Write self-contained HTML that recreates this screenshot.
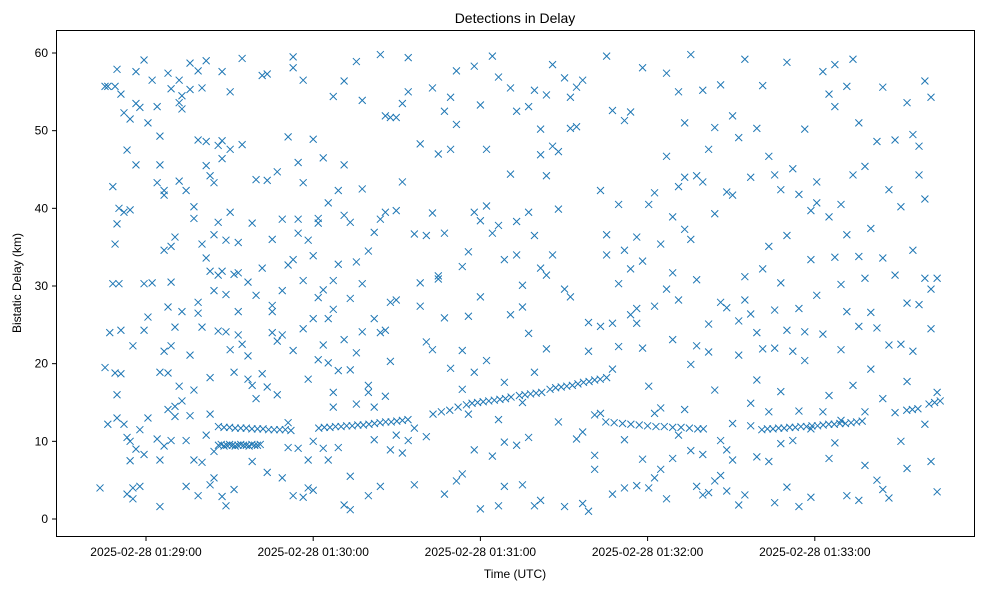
<!DOCTYPE html>
<html><head><meta charset="utf-8"><style>
body{margin:0;background:#fff;}
svg{display:block;font-family:"Liberation Sans","DejaVu Sans",sans-serif;}
</style></head><body>
<svg id="chart" width="989" height="590">
<rect x="0" y="0" width="989" height="590" fill="#fff"/>
<text x="515" y="23" font-size="14" text-anchor="middle">Detections in Delay</text>
<text x="515" y="578" font-size="12" text-anchor="middle">Time (UTC)</text>
<text transform="translate(21,283) rotate(-90)" font-size="12" text-anchor="middle">Bistatic Delay (km)</text>
<g id="marks"></g>
<g id="axes"></g>
<rect x="56.5" y="30.5" width="918" height="506" fill="none" stroke="#000" stroke-width="1"/>
</svg>
<script>
// time in seconds after 2025-02-28 01:28:00 UTC; delay in km
const xTickSeconds = [60,120,180,240,300];
const xTickLabels = ["2025-02-28 01:29:00","2025-02-28 01:30:00","2025-02-28 01:31:00","2025-02-28 01:32:00","2025-02-28 01:33:00"];
const yTicks = [0,10,20,30,40,50,60];
const noiseTimes = [43.5,45.3,46.3,47,48.1,48.9,49.6,50.3,51,52.1,53.2,54.3,55.3,56.4,57.8,59.3,60.7,62.2,64,65,66.5,67.9,69,70.4,71.9,72.9,74.4,75.8,77.2,78.7,80.1,81.6,83,84.4,85.9,87.3,88.7,90.2,91.6,93.1,94.5,96.6,98.1,99.5,101.7,103.5,105.3,107.1,108.9,111,112.8,114.6,116.4,118.2,120,121.8,123.6,125.4,127.2,129,131.1,133.3,135.5,137.6,139.8,141.9,144.1,145.9,147.7,149.8,152,154.1,156.3,158.4,160.6,162.8,164.9,167.1,169.3,171.4,173.5,175.7,177.8,180,182.2,184.3,186.5,188.6,190.8,193,195.1,197.3,199.4,201.6,203.7,205.9,208,210.2,212.3,214.5,216.7,218.8,221,223.1,225.3,227.4,229.6,231.7,233.9,236.1,238.2,240.4,242.5,244.7,246.8,249,251.1,253.3,255.5,257.6,259.8,261.9,264.1,266.2,268.4,270.5,272.7,274.9,277,279.2,281.3,283.5,285.6,287.8,290,292.1,294.3,296.4,298.6,300.7,302.9,305.1,307.2,309.4,311.5,313.7,315.8,318,320.1,322.3,324.4,326.6,328.8,330.9,333.1,335.2,337.4,339.5,341.7,343.9];
const noiseDelays = [[4],[55.7,19.5],[55.7,12.2],[24],[42.8,30.3],[35.4,55.7,18.8],[38,57.9,13.0,16.0],[40,30.3],[54.7,18.7,24.3],[52.3,12.2,39.5],[47.5,10.5,3.2],[51.5,39.8,10.0,7.5],[22.3,2.6,4],[45.6,57.6,53.5,9.0],[53,4.2,11.5],[30.3,24.3,59.1,8.3],[26.0,51,13],[56.5,30.4],[53.1,43.3,10.3],[49.3,45.6,18.9,1.6,7.6],[41.7,21.6,9.4,42.3,34.6],[57.4,27.3,18.8,14.1],[55.4,22.3,10.1,30.5,35.1],[36.3,24.7,14.5,13.2],[56.5,53.6,43.5,17.1],[54.5,52.8,26.7,15.2],[42.3,4.2,10.1],[58.7,55.3,21.1,13.3],[38.7,40.2,16.6,7.6],[57.7,48.8,27.9,3,26.5],[55.5,35.4,24.7,7.3],[59,48.6,45.5,33.6,10.8],[13.5,18.2,44.2,31.9,4.4],[36.6,43.3,29.4,5.3,8.7],[38.2,48.1,31.4,24.2],[48.7,57.6,46.4,31.9,2.9],[28.9,24.1,35.9,1.7],[55,47.6,39.5,21.8],[18.9,3.8,31.5],[35.6,26.7,23.7,31.7],[59.3,48.2,22.5],[21.0,30.5,18.0],[17.2,7.4,38.1],[43.7,15.5,28.8],[57.1,32.3,18.7],[43.6,57.3,6.0,17.0],[27.5,26.7,24.0,36.0],[44.7,22.9,16.0],[38.6,23.7,29.4,5.3],[49.2,32.7,12.4,9.2],[59.5,58.1,33.4,21.7,3.0],[38.6,45.9,36.8,9.1],[56.5,43.3,30.7,24.5,2.8],[35.9,18.0,7.6,4.0],[48.9,33.9,25.8,3.7,10.0],[38.7,38.1,28.5,20.5],[46.5,29.5,22.4,9.1],[40.7,25.8,20.1,7.6],[54.4,30.7,27.0,16.3,14.4],[42.3,32.8,19.1,9.2],[56.4,39.1,45.6,23.1,1.8],[38.2,28.4,19.2,5.5,1.2],[58.9,33.1,21.4,14.8],[53.9,42.5,30.3,24.1],[34.5,17.2,3.0,16.3],[36.9,14.4,25.8,10.2],[59.8,38.6,24.0,4.2],[51.9,39.5,15.8,24.3],[51.7,27.9,8.9,20.3],[39.7,28.2,10.8,51.7],[53.5,43.4,8.5],[59.4,55.0,10.1],[36.7,11.7,4.4],[48.3,30.4,27.4],[36.5,22.8,10.6],[55.5,39.4,21.8],[47.0,31.3,30.9],[52.5,36.8,25.9,3.2],[54.3,47.6,19.4],[57.7,50.8,4.9],[32.5,16.7,21.7,5.8],[34.4,26.1,13.5],[58.3,39.5,8.9,18.9],[53.3,38.4,28.6,1.3],[47.6,40.3,20.4],[59.6,36.8,8.1],[56.9,37.8,12.8,1.7],[33.4,17.6,9.9,4.2],[55.5,44.4,26.3],[52.5,38.3,34.0,9.5],[30.1,27.3,15.0,4.4],[53.1,39.5,23.9,10.5],[55.2,36.5,18.9,1.7],[50.2,46.9,32.3,2.4],[54.6,44.2,31.4,21.9],[58.5,48.0,34.0],[47.3,39.9,12.5],[56.8,29.6,1.6],[54.3,50.3,28.6],[55.6,50.5,10.3],[56.5,11.2,2.0],[21.6,25.3,1.0],[13.4,8.2,6.4],[42.3,24.8,13.6],[59.6,36.6,34.0,18.2],[52.6,25.2,19.3,3.2],[40.5,30.3,22.2],[51.3,34.6,4.0,10.2],[52.4,32.2,26.3],[36.3,27.1,25.2,4.3],[58.1,33.2,22.0,7.7],[40.5,17.1,4.0],[42.0,27.4,13.6,5.3],[35.4,14.3,6.4],[57.4,46.7,29.6,2.6],[38.9,31.7,23.1,7.8],[55.0,42.8,28.2,10.8],[51.0,44.0,37.3,14.1],[59.8,36.0,19.9,8.8],[44.2,30.8,22.3,4.2],[55.2,43.4,8.3,3.1],[47.6,25.1,21.5,3.4],[50.4,39.3,16.6,4.9],[55.9,27.9,10.1,5.6],[42.1,27.2,8.9,3.6],[51.9,41.7,12.3,7.6],[49.1,25.5,21.1,1.8],[59.2,31.2,28.2,3.1],[44.0,26.4,14.9,12.0],[50.3,24.0,17.9,8.0],[55.8,32.2,21.9],[46.7,35.1,13.8,7.4],[44.3,26.9,22.0,2.1],[42.4,30.4,16.4,9.7],[58.8,36.5,24.3,4.1],[45.1,21.6,10.1],[41.8,27.1,13.9,1.6],[50.2,24.1,20.4],[39.7,33.4,11.6,2.8],[43.4,40.7,28.8],[57.6,23.8,13.8],[54.7,38.9,15.9,7.8],[58.5,53.1,33.7,9.8],[40.5,30.2,21.8,12.7],[55.7,36.6,26.7,3.0],[59.2,44.3,17.2],[51.0,33.8,24.8,2.4],[45.4,31.0,13.8,6.9],[37.4,26.6,19.3],[48.6,24.6,5.0],[55.6,33.6,15.5,3.8],[42.4,22.4,2.7],[48.8,31.4,13.7],[40.2,22.5,10.0],[53.6,27.8,17.7,6.5],[49.5,34.6,21.6],[48.0,44.3,27.6],[56.4,41.2,31.0,12.2],[54.3,29.6,24.5,7.4],[31.0,16.3,3.5]];
const trackTimes = [86,87,88,89,90,91,92,93,94,95,96,97,98,99,100,101,
86,88,90,92,94,96,98,100,102,104,106,108,110,112,
122,124,126,128,130,132,134,136,138,140,142,144,146,148,150,152,154,
163,166,169,172,175,177,179,181,183,185,187,189,191,194,196,198,200,202,205,207,209,211,213,215,217,219,221,223,
225,228,231,234,237,240,243,246,249,252,255,258,260,
281,283,285,287,289,291,293,295,297,299,301,303,305,307,309,311,313,315,317,
333,335,337,341,343,345];
const trackDelays = [9.5,9.6,9.4,9.5,9.6,9.5,9.4,9.5,9.6,9.5,9.5,9.4,9.6,9.5,9.5,9.6,
11.9,11.8,11.8,11.7,11.7,11.7,11.6,11.6,11.6,11.5,11.5,11.5,11.5,11.4,
11.7,11.8,11.8,11.9,11.9,12.0,12.0,12.1,12.1,12.2,12.3,12.4,12.5,12.5,12.6,12.7,12.8,
13.5,13.8,14.0,14.4,14.7,14.9,15.0,15.1,15.2,15.3,15.4,15.5,15.7,15.9,16.0,16.1,16.2,16.3,16.7,16.9,17.0,17.1,17.2,17.4,17.6,17.7,17.9,18.0,
12.5,12.4,12.3,12.2,12.1,12.0,11.9,11.9,11.8,11.8,11.7,11.6,11.6,
11.5,11.6,11.6,11.7,11.7,11.8,11.8,11.9,11.9,12.0,12.0,12.1,12.2,12.2,12.3,12.3,12.4,12.5,12.6,
14.0,14.1,14.2,14.8,15.0,15.2];

const NS='http://www.w3.org/2000/svg';
function xScale(t){return 146+(t-60)*(167.2/60);}
function yScale(d){return 519-d*(466/60);}
const marks=document.getElementById('marks');
const axes=document.getElementById('axes');
function drawX(t,d){
  const x=xScale(t),y=yScale(d),s=3.5;
  const p=document.createElementNS(NS,'path');
  p.setAttribute('d',`M${x-s},${y-s}L${x+s},${y+s}M${x-s},${y+s}L${x+s},${y-s}`);
  p.setAttribute('stroke','#1f77b4');p.setAttribute('stroke-width','1');p.setAttribute('fill','none');
  
  
  marks.appendChild(p);
}
noiseTimes.forEach((t,i)=>noiseDelays[i].forEach(d=>drawX(t,d)));
trackTimes.forEach((t,i)=>drawX(t,trackDelays[i]));
yTicks.forEach(v=>{
  const y=yScale(v);
  const l=document.createElementNS(NS,'line');
  l.setAttribute('x1',52);l.setAttribute('x2',56);l.setAttribute('y1',y);l.setAttribute('y2',y);l.setAttribute('stroke','#000');
  
  
  axes.appendChild(l);
  const tx=document.createElementNS(NS,'text');
  tx.setAttribute('x',48);tx.setAttribute('y',y+4);tx.setAttribute('font-size','12');tx.setAttribute('text-anchor','end');
  tx.textContent=v;
  
  
  axes.appendChild(tx);
});
xTickSeconds.forEach((t,i)=>{
  const x=xScale(t);
  const l=document.createElementNS(NS,'line');
  l.setAttribute('x1',x);l.setAttribute('x2',x);l.setAttribute('y1',537);l.setAttribute('y2',541);l.setAttribute('stroke','#000');
  
  
  axes.appendChild(l);
  const tx=document.createElementNS(NS,'text');
  tx.setAttribute('x',x);tx.setAttribute('y',556);tx.setAttribute('font-size','12');tx.setAttribute('text-anchor','middle');
  tx.textContent=xTickLabels[i];
  
  
  axes.appendChild(tx);
});
</script>
</body></html>
